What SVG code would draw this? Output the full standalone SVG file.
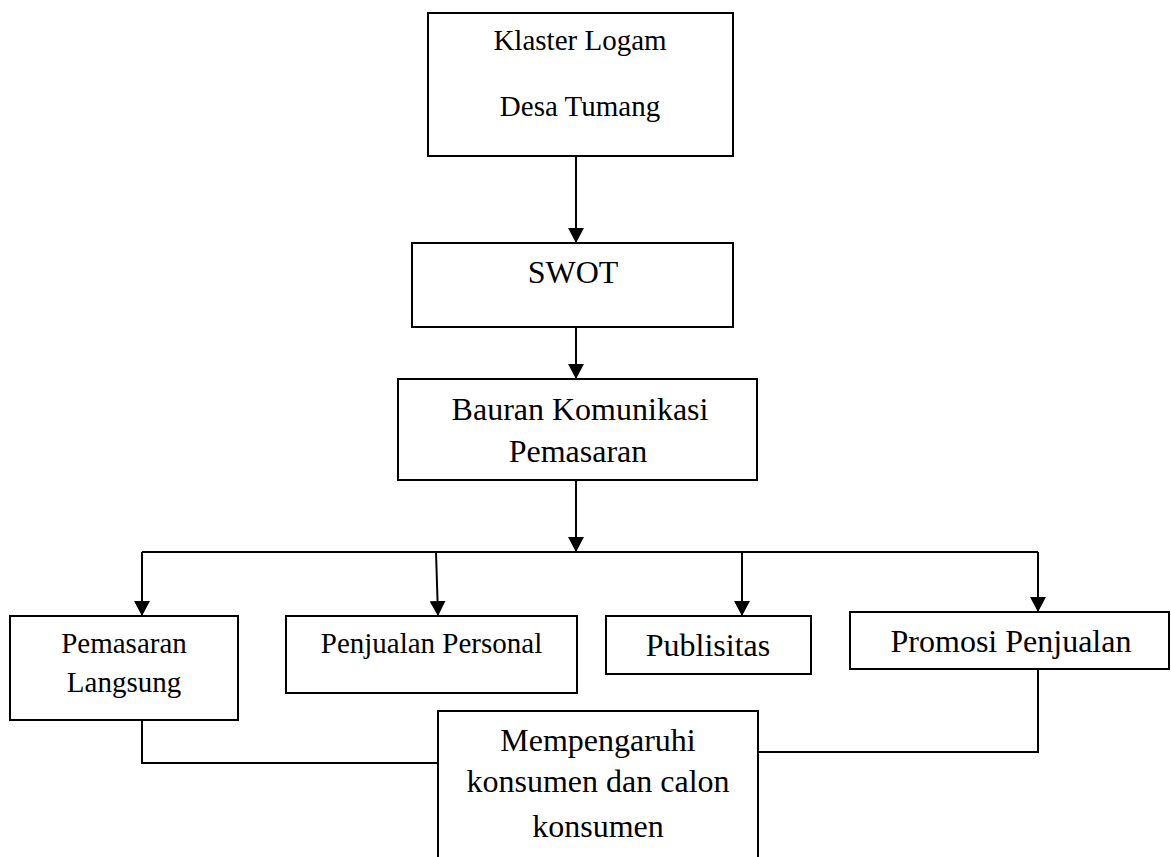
<svg xmlns="http://www.w3.org/2000/svg" width="1171" height="857" viewBox="0 0 1171 857">
<style>
.box{fill:#fff;stroke:#000;stroke-width:2}
.t{font-family:"Liberation Serif","Times New Roman",serif;fill:#000;text-anchor:middle}
.s29{font-size:29px}
.s32{font-size:32px}
.ln{fill:none;stroke:#000;stroke-width:2}
</style>
<defs>
<marker id="ah" markerUnits="userSpaceOnUse" markerWidth="16" markerHeight="16" refX="15" refY="8" orient="auto">
<path d="M0,0 L15,8 L0,16 Z" fill="#000"/>
</marker>
</defs>
<rect width="1171" height="857" fill="#fff"/>
<g id="connectors">
<line class="ln" x1="576" y1="156" x2="576" y2="243" marker-end="url(#ah)"/>
<line class="ln" x1="576" y1="327" x2="576" y2="379" marker-end="url(#ah)"/>
<line class="ln" x1="576" y1="480" x2="576" y2="552" marker-end="url(#ah)"/>
<polyline class="ln" points="142,552 1038,552"/>
<line class="ln" x1="142" y1="552" x2="142" y2="616" marker-end="url(#ah)"/>
<line class="ln" x1="436" y1="552" x2="438" y2="616" marker-end="url(#ah)"/>
<line class="ln" x1="742" y1="552" x2="742" y2="616" marker-end="url(#ah)"/>
<line class="ln" x1="1038" y1="552" x2="1038" y2="612" marker-end="url(#ah)"/>
<polyline class="ln" points="142,720 142,763 438,763"/>
<polyline class="ln" points="1038,669 1038,752 756,752"/>
</g>
<g id="klaster">
<rect class="box" x="428" y="13" width="305" height="143"/>
<text class="t s29" x="580" y="50">Klaster Logam</text>
<text class="t s29" x="580" y="116">Desa Tumang</text>
</g>
<g id="swot">
<rect class="box" x="412" y="243" width="321" height="84"/>
<text class="t s32" x="573" y="283">SWOT</text>
</g>
<g id="bauran">
<rect class="box" x="398" y="379" width="359" height="101"/>
<text class="t s32" x="580" y="420">Bauran Komunikasi</text>
<text class="t s32" x="578" y="462">Pemasaran</text>
</g>
<g id="pemasaran-langsung">
<rect class="box" x="10" y="616" width="228" height="104"/>
<text class="t s29" x="124" y="653">Pemasaran</text>
<text class="t s29" x="124" y="692">Langsung</text>
</g>
<g id="penjualan-personal">
<rect class="box" x="286" y="616" width="291" height="77"/>
<text class="t s29" x="431.5" y="653">Penjualan Personal</text>
</g>
<g id="publisitas">
<rect class="box" x="606" y="616" width="205" height="58"/>
<text class="t s32" x="708" y="656">Publisitas</text>
</g>
<g id="promosi-penjualan">
<rect class="box" x="850" y="612" width="319" height="57"/>
<text class="t s32" x="1011" y="652">Promosi Penjualan</text>
</g>
<g id="mempengaruhi">
<path class="box" d="M438,860 L438,711 L758,711 L758,860"/>
<text class="t s32" x="598" y="751">Mempengaruhi</text>
<text class="t s32" x="598" y="792">konsumen dan calon</text>
<text class="t s32" x="598" y="837">konsumen</text>
</g>
</svg>
